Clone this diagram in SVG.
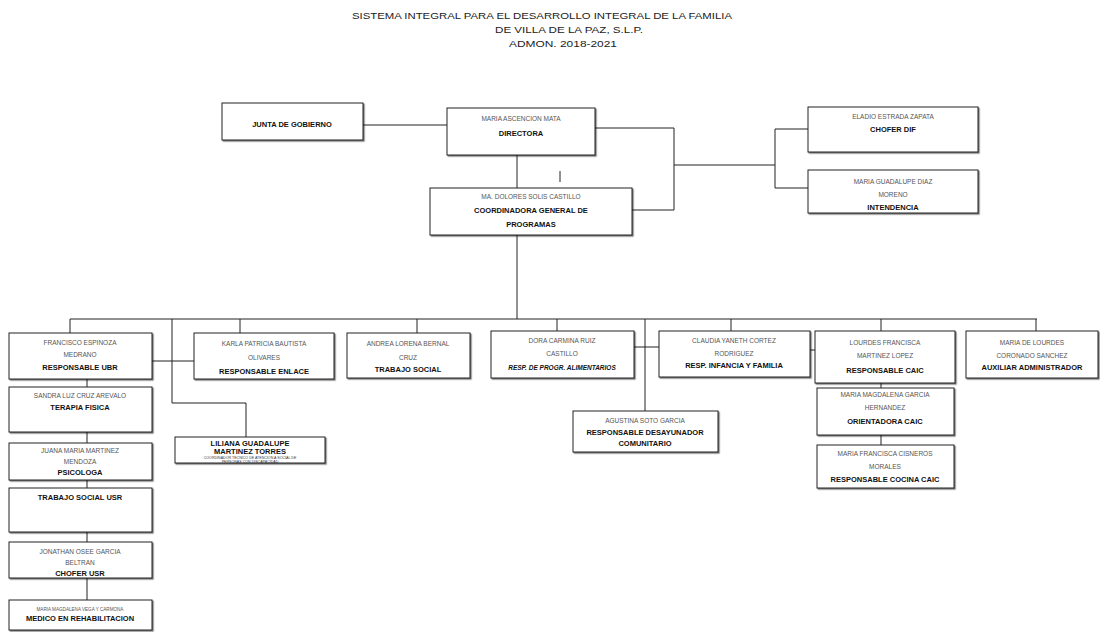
<svg xmlns="http://www.w3.org/2000/svg" width="1100" height="632" viewBox="0 0 1100 632">
<defs>
<filter id="sh" x="-5%" y="-5%" width="110%" height="115%"><feDropShadow dx="1.2" dy="1.2" stdDeviation="0" flood-color="#000" flood-opacity="0.55"/></filter>
<style>
.b{fill:#fff;stroke:#222;stroke-width:1;filter:url(#sh)}
.n{font-family:"Liberation Sans",Arial,sans-serif;font-size:6.5px;fill:#555;text-anchor:middle}
.r{font-family:"Liberation Sans",Arial,sans-serif;font-size:7.5px;font-weight:bold;fill:#111;text-anchor:middle}
.s{font-family:"Liberation Sans",Arial,sans-serif;font-size:3.6px;fill:#333;text-anchor:middle}
.t{font-family:"Liberation Sans",Arial,sans-serif;font-size:9.5px;fill:#222;text-anchor:middle}
.c{stroke:#222;stroke-width:1;fill:none}
</style>
</defs>
<rect width="1100" height="632" fill="#fff"/>
<g id="title">
<text class="t" x="542" y="19" textLength="380" lengthAdjust="spacingAndGlyphs">SISTEMA INTEGRAL PARA EL DESARROLLO INTEGRAL DE LA FAMILIA</text>
<text class="t" x="569" y="33" textLength="148" lengthAdjust="spacingAndGlyphs">DE VILLA DE LA PAZ, S.L.P.</text>
<text class="t" x="563" y="47" textLength="108" lengthAdjust="spacingAndGlyphs">ADMON. 2018-2021</text>
</g>
<g id="connectors">
<path class="c" d="M363,125 H447"/>
<path class="c" d="M595,128 H674 V210 H632"/>
<path class="c" d="M674,165 H775 M775,129 V188 M775,129 H808 M775,188 H808"/>
<path class="c" d="M517,155 V188"/>
<path class="c" d="M560,171 V182"/>
<path class="c" d="M517,235 V319"/>
<path class="c" d="M70,319 H1037"/>
<path class="c" d="M70,319 V333 M240,319 V333 M417,319 V333 M557,319 V331 M731,319 V331 M881,319 V331 M1036,319 V331"/>
<path class="c" d="M172,319 V403 H246 V437"/>
<path class="c" d="M152,361 H194"/>
<path class="c" d="M645,319 V411"/>
<path class="c" d="M634,347 H659"/>
<path class="c" d="M810,350 H815"/>
<path class="c" d="M881,383 V388 M881,435 V445"/>
<path class="c" d="M87,379 V387 M87,432 V443 M87,480 V488 M87,532 V542 M87,578 V600"/>
</g>
<g id="junta">
<rect class="b" x="222" y="103" width="141" height="37"/>
<text class="r" x="292" y="127">JUNTA DE GOBIERNO</text>
</g>
<g id="directora">
<rect class="b" x="447" y="108" width="148" height="47"/>
<text class="n" x="521" y="121">MARIA ASCENCION MATA</text>
<text class="r" x="521" y="136">DIRECTORA</text>
</g>
<g id="chofer-dif">
<rect class="b" x="808" y="107" width="170" height="45"/>
<text class="n" x="893" y="119">ELADIO ESTRADA ZAPATA</text>
<text class="r" x="893" y="132">CHOFER DIF</text>
</g>
<g id="intendencia">
<rect class="b" x="808" y="170" width="170" height="43"/>
<text class="n" x="893" y="184">MARIA GUADALUPE DIAZ</text>
<text class="n" x="893" y="197">MORENO</text>
<text class="r" x="893" y="210">INTENDENCIA</text>
</g>
<g id="coordinadora">
<rect class="b" x="430" y="188" width="202" height="47"/>
<text class="n" x="531" y="199">MA. DOLORES SOLIS CASTILLO</text>
<text class="r" x="531" y="213">COORDINADORA GENERAL DE</text>
<text class="r" x="531" y="227">PROGRAMAS</text>
</g>
<g id="ubr">
<rect class="b" x="9" y="333" width="143" height="46"/>
<text class="n" x="80" y="345">FRANCISCO ESPINOZA</text>
<text class="n" x="80" y="357">MEDRANO</text>
<text class="r" x="80" y="370">RESPONSABLE UBR</text>
</g>
<g id="enlace">
<rect class="b" x="194" y="333" width="140" height="46"/>
<text class="n" x="264" y="346">KARLA PATRICIA BAUTISTA</text>
<text class="n" x="264" y="360">OLIVARES</text>
<text class="r" x="264" y="374">RESPONSABLE ENLACE</text>
</g>
<g id="trabajo-social">
<rect class="b" x="347" y="333" width="123" height="45"/>
<text class="n" x="408" y="346">ANDREA LORENA BERNAL</text>
<text class="n" x="408" y="360">CRUZ</text>
<text class="r" x="408" y="372">TRABAJO SOCIAL</text>
</g>
<g id="alimentarios">
<rect class="b" x="491" y="331" width="143" height="47"/>
<text class="n" x="562" y="343">DORA CARMINA RUIZ</text>
<text class="n" x="562" y="356">CASTILLO</text>
<text class="r" x="562" y="370" style="font-style:italic;font-size:6.5px">RESP. DE PROGR. ALIMENTARIOS</text>
</g>
<g id="infancia">
<rect class="b" x="659" y="331" width="151" height="46"/>
<text class="n" x="734" y="343">CLAUDIA YANETH CORTEZ</text>
<text class="n" x="734" y="356">RODRIGUEZ</text>
<text class="r" x="734" y="368">RESP. INFANCIA Y FAMILIA</text>
</g>
<g id="caic">
<rect class="b" x="815" y="331" width="140" height="52"/>
<text class="n" x="885" y="345">LOURDES FRANCISCA</text>
<text class="n" x="885" y="358">MARTINEZ LOPEZ</text>
<text class="r" x="885" y="373">RESPONSABLE CAIC</text>
</g>
<g id="auxiliar">
<rect class="b" x="966" y="331" width="132" height="47"/>
<text class="n" x="1032" y="345">MARIA DE LOURDES</text>
<text class="n" x="1032" y="358">CORONADO SANCHEZ</text>
<text class="r" x="1032" y="370">AUXILIAR ADMINISTRADOR</text>
</g>
<g id="terapia">
<rect class="b" x="9" y="387" width="143" height="45"/>
<text class="n" x="80" y="398">SANDRA LUZ CRUZ AREVALO</text>
<text class="r" x="80" y="410">TERAPIA FISICA</text>
</g>
<g id="psicologa">
<rect class="b" x="9" y="443" width="143" height="37"/>
<text class="n" x="80" y="453">JUANA MARIA MARTINEZ</text>
<text class="n" x="80" y="464">MENDOZA</text>
<text class="r" x="80" y="475">PSICOLOGA</text>
</g>
<g id="trabajo-social-usr">
<rect class="b" x="9" y="488" width="143" height="44"/>
<text class="r" x="80" y="500">TRABAJO SOCIAL USR</text>
</g>
<g id="chofer-usr">
<rect class="b" x="9" y="542" width="143" height="36"/>
<text class="n" x="80" y="554">JONATHAN OSEE GARCIA</text>
<text class="n" x="80" y="565">BELTRAN</text>
<text class="r" x="80" y="576">CHOFER USR</text>
</g>
<g id="medico">
<rect class="b" x="9" y="600" width="143" height="30"/>
<text class="n" x="80" y="611" style="font-size:4.6px">MARIA MAGDALENA VEGA Y CARMONA</text>
<text class="r" x="80" y="621">MEDICO EN REHABILITACION</text>
</g>
<g id="discapacidad">
<rect class="b" x="175" y="437" width="150" height="26"/>
<text class="r" x="250" y="446">LILIANA GUADALUPE</text>
<text class="r" x="250" y="454">MARTINEZ TORRES</text>
<text class="s" x="250" y="459">COORDINADOR TECNICO DE ATENCION A SOCIAL DE</text>
<text class="s" x="250" y="463">PERSONAS CON DISCAPACIDAD</text>
</g>
<g id="desayunador">
<rect class="b" x="573" y="411" width="145" height="41"/>
<text class="n" x="645" y="423">AGUSTINA SOTO GARCIA</text>
<text class="r" x="645" y="435">RESPONSABLE DESAYUNADOR</text>
<text class="r" x="645" y="446">COMUNITARIO</text>
</g>
<g id="orientadora">
<rect class="b" x="817" y="388" width="137" height="47"/>
<text class="n" x="885" y="397">MARIA MAGDALENA GARCIA</text>
<text class="n" x="885" y="410">HERNANDEZ</text>
<text class="r" x="885" y="424">ORIENTADORA CAIC</text>
</g>
<g id="cocina">
<rect class="b" x="817" y="445" width="137" height="43"/>
<text class="n" x="885" y="456">MARIA FRANCISCA CISNEROS</text>
<text class="n" x="885" y="469">MORALES</text>
<text class="r" x="885" y="482">RESPONSABLE COCINA CAIC</text>
</g>
</svg>
